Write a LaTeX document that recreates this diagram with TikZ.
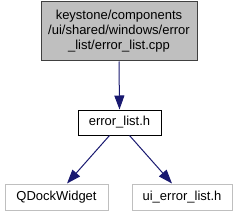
\documentclass[tikz,border=0pt]{standalone}
\usepackage{fontspec}
\setmainfont{Liberation Sans}
\usetikzlibrary{arrows.meta}
\definecolor{edgeblue}{HTML}{191970}
\definecolor{topfill}{HTML}{BFBFBF}
\definecolor{extgrey}{HTML}{BFBFBF}
\tikzset{
  lbl/.style={inner sep=0pt, align=center, font=\fontsize{13}{15}\selectfont},
  filebox/.style={lbl, draw=black, line width=1pt, fill=white},
  mainbox/.style={lbl, draw=black!75, line width=1pt, fill=topfill},
  extbox/.style={lbl, draw=extgrey, line width=1pt, fill=white},
  dep/.style={draw=edgeblue, line width=1pt, -{Triangle[length=14pt,width=10pt]}},
}
\begin{document}
\begin{tikzpicture}[x=1pt,y=-1pt]
\useasboundingbox (0,0) rectangle (237,216);
\node[mainbox, minimum width=156pt, minimum height=59pt] (top) at (119,31.5)
  {keystone/components\\/ui/shared/windows/error\\\_list/error\_list.cpp};
\node[filebox, minimum width=83pt, minimum height=25pt] (eh) at (119.5,122.5) {error\_list.h};
\node[extbox, minimum width=103pt, minimum height=26pt] (qdw) at (56.5,197) {QDockWidget};
\node[extbox, minimum width=100pt, minimum height=26pt] (ui) at (182,197) {ui\_error\_list.h};
% connectors
\draw[dep] (top.south) -- (eh.north);
\draw[dep] ([xshift=-10pt]eh.south) -- ([xshift=10.5pt]qdw.north);
\draw[dep] ([xshift=10pt]eh.south) -- ([xshift=-10pt]ui.north);
\end{tikzpicture}
\end{document}
